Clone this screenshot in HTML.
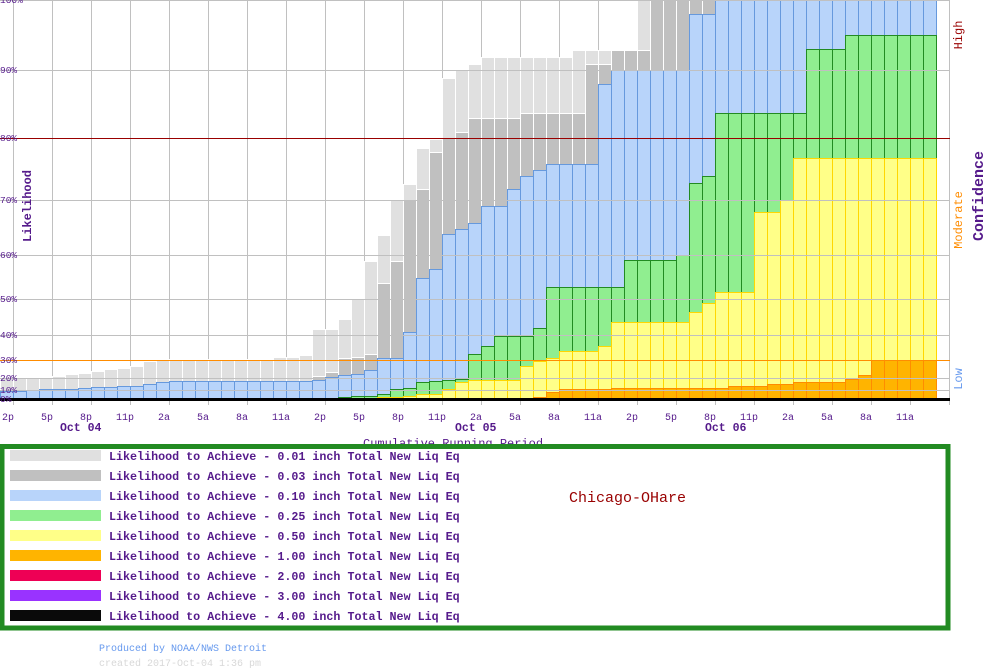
<!DOCTYPE html>
<html><head><meta charset="utf-8"><style>
html,body{margin:0;padding:0;background:#fff;width:1000px;height:670px;overflow:hidden}
svg{display:block}
text{font-family:"Liberation Mono","DejaVu Sans Mono",monospace}
</style></head><body>
<svg id="s" width="1000" height="670" xmlns="http://www.w3.org/2000/svg">
<g id="vgrid"></g>
<g id="bars"></g>
<g id="hgrid"></g>
<rect x="0" y="398" width="950" height="3" fill="#000"/>
<g fill="#551a8b" font-size="9.5">
<text x="0" y="3">100%</text><text x="0" y="73">90%</text><text x="0" y="141">80%</text><text x="0" y="203">70%</text><text x="0" y="258">60%</text><text x="0" y="302">50%</text><text x="0" y="338">40%</text><text x="0" y="363">30%</text><text x="0" y="381">20%</text><text x="0" y="393">10%</text><text x="0" y="402">0%</text>
</g>
<text transform="translate(31,206) rotate(-90)" text-anchor="middle" font-size="12" font-weight="bold" fill="#551a8b">Likelihood</text>
<text transform="translate(962,35) rotate(-90)" text-anchor="middle" font-size="12" fill="#990000">High</text>
<text transform="translate(962,220) rotate(-90)" text-anchor="middle" font-size="12" fill="#ff8c00">Moderate</text>
<text transform="translate(962,379) rotate(-90)" text-anchor="middle" font-size="12" fill="#6699ee">Low</text>
<text transform="translate(983,196) rotate(-90)" text-anchor="middle" font-size="15" font-weight="bold" fill="#551a8b">Confidence</text>
<g fill="#551a8b" font-size="10" text-anchor="middle">
<text x="8" y="420">2p</text><text x="47" y="420">5p</text><text x="86" y="420">8p</text><text x="125" y="420">11p</text><text x="164" y="420">2a</text><text x="203" y="420">5a</text><text x="242" y="420">8a</text><text x="281" y="420">11a</text><text x="320" y="420">2p</text><text x="359" y="420">5p</text><text x="398" y="420">8p</text><text x="437" y="420">11p</text><text x="476" y="420">2a</text><text x="515" y="420">5a</text><text x="554" y="420">8a</text><text x="593" y="420">11a</text><text x="632" y="420">2p</text><text x="671" y="420">5p</text><text x="710" y="420">8p</text><text x="749" y="420">11p</text><text x="788" y="420">2a</text><text x="827" y="420">5a</text><text x="866" y="420">8a</text><text x="905" y="420">11a</text>
</g>
<g fill="#551a8b" font-size="11.5" font-weight="bold">
<text x="60" y="431">Oct 04</text><text x="455" y="431">Oct 05</text><text x="705" y="431">Oct 06</text>
</g>
<text x="363" y="447" font-size="12" fill="#551a8b">Cumulative Running Period</text>
<rect x="2" y="446.5" width="946" height="181.5" fill="#fff" stroke="#228b22" stroke-width="5"/>
<g id="leg"></g>
<g fill="#551a8b" font-size="11.7" font-weight="bold">
<text x="109" y="460">Likelihood to Achieve - 0.01 inch Total New Liq Eq</text>
<text x="109" y="480">Likelihood to Achieve - 0.03 inch Total New Liq Eq</text>
<text x="109" y="500">Likelihood to Achieve - 0.10 inch Total New Liq Eq</text>
<text x="109" y="520">Likelihood to Achieve - 0.25 inch Total New Liq Eq</text>
<text x="109" y="540">Likelihood to Achieve - 0.50 inch Total New Liq Eq</text>
<text x="109" y="560">Likelihood to Achieve - 1.00 inch Total New Liq Eq</text>
<text x="109" y="580">Likelihood to Achieve - 2.00 inch Total New Liq Eq</text>
<text x="109" y="600">Likelihood to Achieve - 3.00 inch Total New Liq Eq</text>
<text x="109" y="620">Likelihood to Achieve - 4.00 inch Total New Liq Eq</text>
</g>
<text x="569" y="502" font-size="15" fill="#990000">Chicago-OHare</text>
<text x="99" y="651" font-size="10" fill="#6699ee">Produced by NOAA/NWS Detroit</text>
<text x="99" y="666" font-size="10" fill="#d8d8d8">created 2017-Oct-04 1:36 pm</text>
</svg>
<script>
var N='http://www.w3.org/2000/svg';
function el(p,t,a){var e=document.createElementNS(N,t);for(var k in a)e.setAttribute(k,a[k]);document.getElementById(p).appendChild(e);}
for(var x=13;x<950;x+=39){el('vgrid','line',{x1:x+.5,y1:0,x2:x+.5,y2:405,stroke:'#c0c0c0'});}
el('vgrid','line',{x1:949.5,y1:0,x2:949.5,y2:399,stroke:'#c0c0c0'});
var Z=399;
var D=[];
function p(n,a){for(var i=0;i<n;i++)D.push(a.slice());}
p(2,[378,391,391,Z,Z,Z]);p(1,[378,390,390,Z,Z,Z]);p(1,[378,389,389,Z,Z,Z]);
p(1,[376,389,389,Z,Z,Z]);p(1,[374,389,389,Z,Z,Z]);p(1,[373,388,388,Z,Z,Z]);
p(1,[371,387,387,Z,Z,Z]);p(1,[369,387,387,Z,Z,Z]);p(1,[368,386,386,Z,Z,Z]);
p(1,[366,386,386,Z,Z,Z]);p(1,[361,384,384,Z,Z,Z]);p(1,[359,382,382,Z,Z,Z]);
p(8,[359,381,381,Z,Z,Z]);p(2,[357,381,381,Z,Z,Z]);p(1,[355,381,381,Z,Z,Z]);
p(1,[329,376,380,Z,Z,Z]);p(1,[329,372,377,Z,Z,Z]);
p(1,[319,358,375,397,Z,Z]);p(1,[299,357,374,396,Z,Z]);p(1,[261,354,370,396,Z,Z]);
p(1,[235,283,358,394,397,Z]);p(1,[200,261,358,389,397,Z]);p(1,[184,200,332,388,396,Z]);
p(1,[148,189,278,382,394,Z]);p(1,[139,152,269,381,394,Z]);p(1,[78,138,234,380,389,Z]);
p(1,[70,132,229,379,382,Z]);p(1,[64,118,223,354,380,Z]);p(1,[57,118,206,346,380,Z]);
p(1,[57,118,206,336,380,Z]);p(1,[57,118,189,336,380,Z]);p(1,[57,113,176,336,366,Z]);
p(1,[57,113,170,328,361,397]);p(1,[57,113,164,287,358,392]);p(1,[57,113,164,287,351,389]);
p(1,[50,113,164,287,351,389]);p(1,[50,64,164,287,351,389]);p(1,[50,64,84,287,346,389]);
p(1,[50,50,70,287,322,388]);p(1,[50,50,70,260,322,388]);p(1,[0,50,70,260,322,388]);
p(2,[0,0,70,260,322,388]);p(1,[0,0,70,255,322,388]);p(1,[0,0,14,183,312,388]);
p(1,[0,0,14,176,303,388]);p(1,[0,0,0,113,292,388]);
p(2,[0,0,0,113,292,386]);p(1,[0,0,0,113,212,386]);p(1,[0,0,0,113,212,384]);
p(1,[0,0,0,113,200,384]);p(1,[0,0,0,113,158,382]);p(3,[0,0,0,49,158,382]);
p(1,[0,0,0,35,158,379]);p(1,[0,0,0,35,158,375]);p(5,[0,0,0,35,158,360]);
var F=['#e0e0e0','#c0c0c0','#b8d4fa','#90ee90','#ffff88','#ffb400'];
var S=['#ffffff','#ffffff','#6699dd','#228b22','#ffd700','#ff8c00'];
for(var s=0;s<6;s++){for(var k=0;k<D.length&&k<72;k++){var t=D[k][s];if(t>=Z)continue;
el('bars','rect',{x:13*k+.5,y:t+.5,width:13,height:Z-t-.5,fill:F[s],stroke:S[s]});}}
var H=[0,70,200,255,299,335,378,390];
H.forEach(function(y){el('hgrid','line',{x1:0,y1:y+.5,x2:950,y2:y+.5,stroke:'#c0c0c0'});});
el('hgrid','line',{x1:0,y1:138.5,x2:950,y2:138.5,stroke:'#990000'});
el('hgrid','line',{x1:0,y1:360.5,x2:950,y2:360.5,stroke:'#ff8c00'});
var LC=['#e0e0e0','#c0c0c0','#b8d4fa','#90ee90','#ffff88','#ffb400','#ee0055','#9933ff','#0a0a0a'];
LC.forEach(function(c,i){el('leg','rect',{x:10,y:450+20*i,width:91,height:11,fill:c});});
</script>
</body></html>
